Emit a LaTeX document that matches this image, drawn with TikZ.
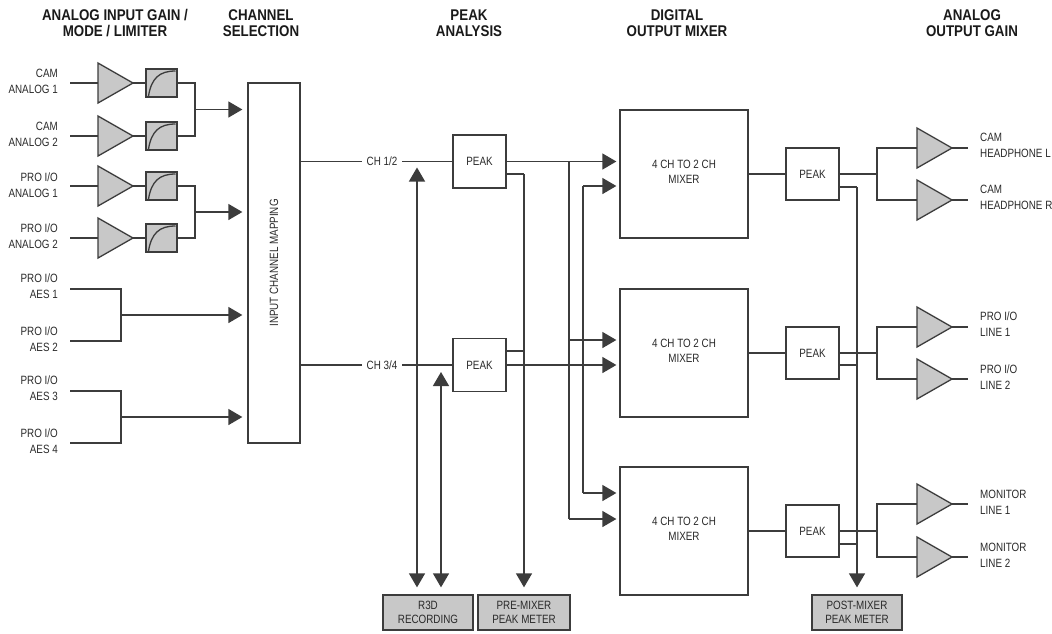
\documentclass[tikz,border=0pt]{standalone}
\usepackage{fontspec}
\setmainfont{Liberation Sans}[FakeStretch=0.82]
\newfontfamily\hdfont{Liberation Sans}[FakeStretch=0.86]
\usetikzlibrary{arrows.meta}
\definecolor{lc}{HTML}{3C3C3C}
\definecolor{gf}{HTML}{C8C8C8}
\definecolor{tc}{HTML}{2A2A2A}
\definecolor{hc}{HTML}{1A1A1A}
\newcommand\lbfont{\fontsize{12}{16}\selectfont}
\newcommand\mxfont{\fontsize{12}{15}\selectfont}
\newcommand\btfont{\fontsize{12}{14}\selectfont}
\tikzset{
 amp/.pic={
   \draw[draw=lc, line width=1.3pt, fill=gf, line join=miter] (0,-20) -- (35,0) -- (0,20) -- cycle;
   \coordinate (-in) at (0,0);
   \coordinate (-out) at (35,0);
   \coordinate (-end) at (51,0);
 },
 lim/.pic={
   \draw[draw=lc, line width=1.3pt, fill=gf] (-15.5,-14) rectangle (15.5,14);
   \draw[draw=lc, line width=1.3pt] (-13,13) .. controls (-10,-5) and (-2,-12) .. (14,-12);
   \coordinate (-in) at (-15.5,0);
   \coordinate (-out) at (15.5,0);
 }
}
\begin{document}
\begin{tikzpicture}[x=1pt, y=-1pt,
 ln/.style={draw=lc, line width=1.3pt},
 arr/.style={ln, -{Triangle[length=14pt,width=16pt]}, shorten >=3pt},
 darr/.style={ln, {Triangle[length=14pt,width=16pt]}-{Triangle[length=14pt,width=16pt]}},
 box/.style={ln, fill=white, inner sep=0pt, text=tc, font=\lbfont},
 gbox/.style={ln, fill=gf, inner sep=0pt, minimum height=35pt, text=tc, align=center, font=\btfont},
 lbl/.style={text=tc, inner sep=0pt, font=\lbfont},
 hdr/.style={text=hc, inner sep=0pt, align=center, font=\hdfont\bfseries\fontsize{15.5}{15.5}\selectfont},
]
\fill[white] (0,0) rectangle (1052,633);
\useasboundingbox (0,0) rectangle (1052,633);

% headers
\node[hdr] (h1) at (115,23) {ANALOG INPUT GAIN /\\MODE / LIMITER};
\node[hdr] (h2) at (261,23) {CHANNEL\\SELECTION};
\node[hdr] (h3) at (469,23) {PEAK\\ANALYSIS};
\node[hdr] (h4) at (677,23) {DIGITAL\\OUTPUT MIXER};
\node[hdr] (h5) at (972,23) {ANALOG\\OUTPUT GAIN};

% channel mapping
\node[box, minimum width=52pt, minimum height=360pt] (chm) at (274,263) {};
\node[lbl, rotate=90] (chmt) at (chm.center) {INPUT CHANNEL MAPPING};

% analog inputs
\pic (a1) at (98,83) {amp};
\pic (l1) at (161.5,83) {lim};
\coordinate (i1) at (70,83);
\draw[ln] (i1) -- (a1-in);
\draw[ln] (a1-out) -- (l1-in);
\node[lbl, anchor=east, align=right] (t1) at (58,81) {CAM\\ANALOG 1};

\pic (a2) at (98,136) {amp};
\pic (l2) at (161.5,136) {lim};
\coordinate (i2) at (70,136);
\draw[ln] (i2) -- (a2-in);
\draw[ln] (a2-out) -- (l2-in);
\node[lbl, anchor=east, align=right] (t2) at (58,134) {CAM\\ANALOG 2};

\pic (a3) at (98,186) {amp};
\pic (l3) at (161.5,186) {lim};
\coordinate (i3) at (70,186);
\draw[ln] (i3) -- (a3-in);
\draw[ln] (a3-out) -- (l3-in);
\node[lbl, anchor=east, align=right] (t3) at (58,185) {PRO I/O\\ANALOG 1};

\pic (a4) at (98,238) {amp};
\pic (l4) at (161.5,238) {lim};
\coordinate (i4) at (70,238);
\draw[ln] (i4) -- (a4-in);
\draw[ln] (a4-out) -- (l4-in);
\node[lbl, anchor=east, align=right] (t4) at (58,236) {PRO I/O\\ANALOG 2};

\coordinate (jL1) at (195,109.5);
\draw[ln] (l1-out) -| (jL1);
\draw[ln] (l2-out) -| (jL1);
\draw[arr, shorten >=5pt] (jL1) -- (jL1 -| chm.west);
\coordinate (jL2) at (195,212);
\draw[ln] (l3-out) -| (jL2);
\draw[ln] (l4-out) -| (jL2);
\draw[arr, shorten >=5pt] (jL2) -- (jL2 -| chm.west);

% AES inputs
\coordinate (e1) at (70,289);
\coordinate (e2) at (70,341);
\coordinate (e3) at (70,391);
\coordinate (e4) at (70,443);
\coordinate (jE1) at (121,315);
\coordinate (jE2) at (121,417);
\draw[ln] (e1) -| (jE1);
\draw[ln] (e2) -| (jE1);
\draw[ln] (e3) -| (jE2);
\draw[ln] (e4) -| (jE2);
\draw[arr, shorten >=5pt] (jE1) -- (jE1 -| chm.west);
\draw[arr, shorten >=5pt] (jE2) -- (jE2 -| chm.west);
\node[lbl, anchor=east, align=right] (t5) at (58,286.5) {PRO I/O\\AES 1};
\node[lbl, anchor=east, align=right] (t6) at (58,339) {PRO I/O\\AES 2};
\node[lbl, anchor=east, align=right] (t7) at (58,388.5) {PRO I/O\\AES 3};
\node[lbl, anchor=east, align=right] (t8) at (58,441) {PRO I/O\\AES 4};

% peak analysis
\node[box, minimum width=53pt, minimum height=53pt] (pkA) at (479.5,161.5) {PEAK};
\node[box, minimum width=53pt, minimum height=53pt] (pkB) at (479.5,365) {PEAK};
\draw[ln] (pkA.west -| chm.east) -- (pkA.west);
\draw[ln] (pkB.west -| chm.east) -- (pkB.west);
\node[lbl, fill=white, inner xsep=5pt, inner ysep=3pt] (ch12) at (382,161.5) {CH 1/2};
\node[lbl, fill=white, inner xsep=5pt, inner ysep=3pt] (ch34) at (382,365) {CH 3/4};

% bottom boxes
\node[gbox, minimum width=90pt] (r3d) at (428,612.5) {R3D\\RECORDING};
\node[gbox, minimum width=92pt] (pre) at (524,612.5) {PRE-MIXER\\PEAK METER};
\node[gbox, minimum width=90pt] (post) at (857,612.5) {POST-MIXER\\PEAK METER};

% R3D arrows
\coordinate (rA) at (417,161.5);
\coordinate (rB) at (441,365);
\draw[darr, shorten <=6pt, shorten >=7pt] (rA) -- (rA |- r3d.north);
\draw[darr, shorten <=7pt, shorten >=7pt] (rB) -- (rB |- r3d.north);

% pre-mixer meter
\coordinate (pmA) at (524,174);
\coordinate (pmB) at (524,351);
\draw[ln] (pmA -| pkA.east) -- (pmA);
\draw[ln] (pmB -| pkB.east) -- (pmB);
\draw[arr, shorten >=7pt] (pmA) -- (pmA |- pre.north);

% mixers
\node[box, minimum width=128pt, minimum height=128pt] (mxA) at (684,174) {};
\node[box, minimum width=128pt, minimum height=128pt] (mxB) at (684,353) {};
\node[box, minimum width=128pt, minimum height=128pt] (mxC) at (684,531) {};
\node[lbl, align=center, font=\mxfont, yshift=2.5pt] (mxAt) at (mxA.center) {4 CH TO 2 CH\\MIXER};
\node[lbl, align=center, font=\mxfont, yshift=2.5pt] (mxBt) at (mxB.center) {4 CH TO 2 CH\\MIXER};
\node[lbl, align=center, font=\mxfont, yshift=2.5pt] (mxCt) at (mxC.center) {4 CH TO 2 CH\\MIXER};

% routing to mixers
\coordinate (jA1) at (569,161.5);
\coordinate (jA2) at (569,340);
\coordinate (jA3) at (569,519);
\coordinate (jB1) at (583,186);
\coordinate (jB3) at (583,493);
\draw[ln] (jA1) -- (jA3);
\draw[ln] (jB1) -- (jB3);
\draw[arr] (pkA.east) -- (pkA.east -| mxA.west);
\draw[arr] (jB1) -- (jB1 -| mxA.west);
\draw[arr] (jA2) -- (jA2 -| mxB.west);
\draw[arr] (pkB.east) -- (pkB.east -| mxB.west);
\draw[arr] (jB3) -- (jB3 -| mxC.west);
\draw[arr] (jA3) -- (jA3 -| mxC.west);

% output peaks
\node[box, minimum width=53pt, minimum height=52pt] (pkD) at (812.5,174) {PEAK};
\node[box, minimum width=53pt, minimum height=52pt] (pkE) at (812.5,353) {PEAK};
\node[box, minimum width=53pt, minimum height=52pt] (pkF) at (812.5,531) {PEAK};
\draw[ln] (mxA.east) -- (pkD.west);
\draw[ln] (mxB.east) -- (pkE.west);
\draw[ln] (mxC.east) -- (pkF.west);

% post-mixer meter
\coordinate (qD) at (857,187);
\coordinate (qE) at (857,365);
\coordinate (qF) at (857,544);
\draw[ln] (qD -| pkD.east) -- (qD);
\draw[ln] (qE -| pkE.east) -- (qE);
\draw[ln] (qF -| pkF.east) -- (qF);
\draw[arr, shorten >=7pt] (qD) -- (qD |- post.north);

% output amps
\coordinate (kD) at (877,174);
\coordinate (kE) at (877,353);
\coordinate (kF) at (877,531);
\draw[ln] (pkD.east) -- (kD);
\draw[ln] (pkE.east) -- (kE);
\draw[ln] (pkF.east) -- (kF);

\pic (oA) at (917,148) {amp};
\pic (oB) at (917,200) {amp};
\pic (oC) at (917,327) {amp};
\pic (oD) at (917,379) {amp};
\pic (oE) at (917,504) {amp};
\pic (oF) at (917,557) {amp};
\draw[ln] (kD) |- (oA-in);
\draw[ln] (kD) |- (oB-in);
\draw[ln] (kE) |- (oC-in);
\draw[ln] (kE) |- (oD-in);
\draw[ln] (kF) |- (oE-in);
\draw[ln] (kF) |- (oF-in);
\draw[ln] (oA-out) -- (oA-end);
\draw[ln] (oB-out) -- (oB-end);
\draw[ln] (oC-out) -- (oC-end);
\draw[ln] (oD-out) -- (oD-end);
\draw[ln] (oE-out) -- (oE-end);
\draw[ln] (oF-out) -- (oF-end);

\node[lbl, anchor=west, align=left] (u1) at (980,145.5) {CAM\\HEADPHONE L};
\node[lbl, anchor=west, align=left] (u2) at (980,197.5) {CAM\\HEADPHONE R};
\node[lbl, anchor=west, align=left] (u3) at (980,324.5) {PRO I/O\\LINE 1};
\node[lbl, anchor=west, align=left] (u4) at (980,377) {PRO I/O\\LINE 2};
\node[lbl, anchor=west, align=left] (u5) at (980,502) {MONITOR\\LINE 1};
\node[lbl, anchor=west, align=left] (u6) at (980,555) {MONITOR\\LINE 2};
\end{tikzpicture}
\end{document}
